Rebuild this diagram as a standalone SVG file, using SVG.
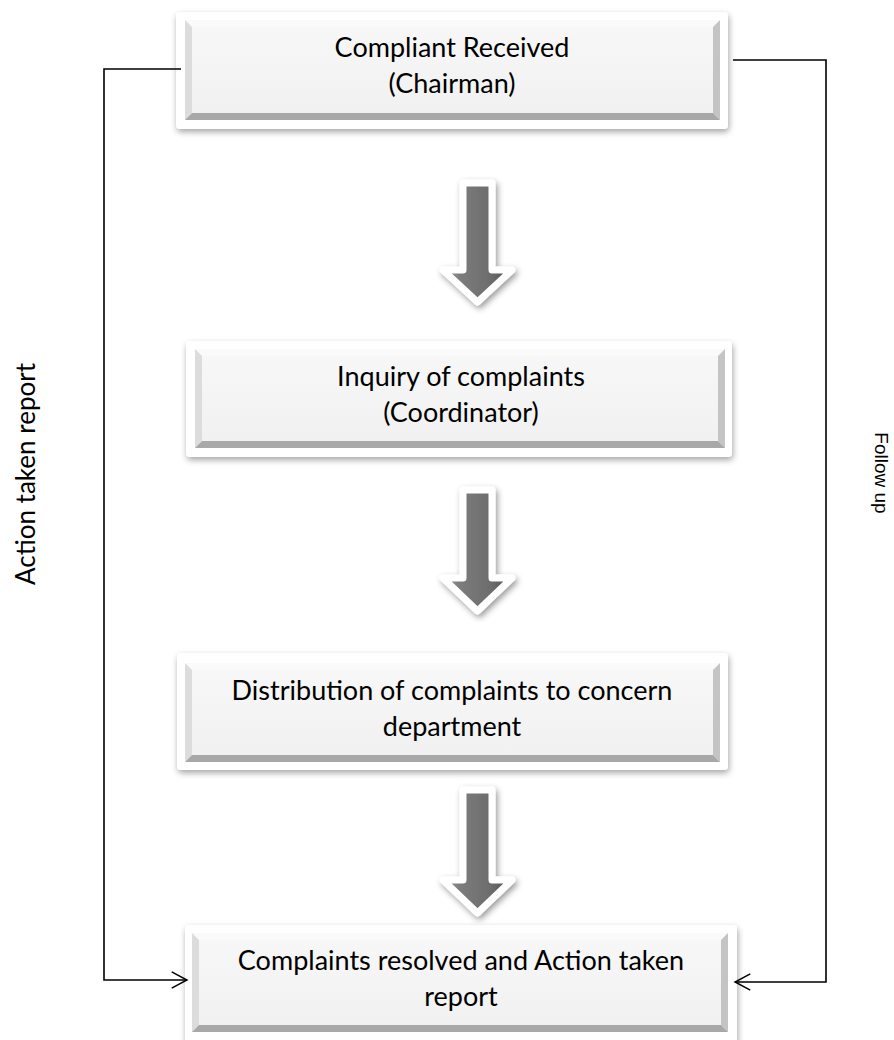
<svg xmlns="http://www.w3.org/2000/svg" width="894" height="1040" viewBox="0 0 894 1040">
  <defs>
    <filter id="shadow" x="-10%" y="-20%" width="120%" height="140%">
      <feDropShadow dx="1" dy="3" stdDeviation="3" flood-color="#000" flood-opacity="0.35"/>
    </filter>
    <filter id="ashadow" x="-40%" y="-20%" width="180%" height="140%">
      <feDropShadow dx="2" dy="3" stdDeviation="3" flood-color="#000" flood-opacity="0.4"/>
    </filter>
    <linearGradient id="shaft" x1="0" y1="0" x2="1" y2="0">
      <stop offset="0" stop-color="#9a9a9a"/>
      <stop offset="0.25" stop-color="#7c7c7c"/>
      <stop offset="0.7" stop-color="#6c6c6c"/>
      <stop offset="1" stop-color="#4c4c4c"/>
    </linearGradient>
    <linearGradient id="face" x1="0" y1="0" x2="0" y2="1">
      <stop offset="0" stop-color="#f7f7f7"/>
      <stop offset="1" stop-color="#f1f1f1"/>
    </linearGradient>
    <marker id="open" viewBox="0 0 20 20" refX="18" refY="10" markerWidth="18" markerHeight="20" markerUnits="userSpaceOnUse" orient="auto">
      <path d="M1,1 L18,10 L1,19" fill="none" stroke="#000" stroke-width="1.6"/>
    </marker>
  </defs>
  <style>
    .frame { fill: #ffffff; filter: url(#shadow); }
    .bt { fill: #fafafa; }
    .bl { fill: #dcdcdc; }
    .br { fill: #c4c4c4; }
    .bb { fill: #a8a8a8; }
    .face { fill: url(#face); }
    .lbl { font-family: "Lato", "Liberation Sans", sans-serif; font-size: 27px; fill: #000; text-anchor: middle; }
    .side { font-family: "Lato", "Liberation Sans", sans-serif; font-size: 26px; fill: #000; text-anchor: middle; }
    .side2 { font-family: "Liberation Sans", Arial, sans-serif; font-size: 19px; fill: #000; text-anchor: middle; }
    .conn { fill: none; stroke: #000; stroke-width: 1.6; }
    .arrow { fill: url(#shaft); stroke: #ffffff; stroke-width: 7; stroke-linejoin: round; filter: url(#ashadow); }
  </style>

  <!-- Node 1 -->
  <g id="node-received">
    <rect class="frame" x="176" y="12" width="552" height="117" rx="4"/>
    <polygon class="bt" points="185,20 720,20 713,27 192,27"/>
    <polygon class="bl" points="185,20 192,27 192,113 185,120"/>
    <polygon class="br" points="720,20 720,120 713,113 713,27"/>
    <polygon class="bb" points="185,120 192,113 713,113 720,120"/>
    <rect class="face" x="192" y="27" width="521" height="86"/>
    <text class="lbl" x="452" y="57">Compliant Received</text>
    <text class="lbl" x="452" y="93">(Chairman)</text>
  </g>

  <!-- Node 2 -->
  <g id="node-inquiry">
    <rect class="frame" x="186" y="341" width="546" height="116" rx="4"/>
    <polygon class="bt" points="195,349 725,349 718,356 202,356"/>
    <polygon class="bl" points="195,349 202,356 202,441 195,448"/>
    <polygon class="br" points="725,349 725,448 718,441 718,356"/>
    <polygon class="bb" points="195,448 202,441 718,441 725,448"/>
    <rect class="face" x="202" y="356" width="516" height="85"/>
    <text class="lbl" x="461" y="386">Inquiry of complaints</text>
    <text class="lbl" x="461" y="422">(Coordinator)</text>
  </g>

  <!-- Node 3 -->
  <g id="node-distribution">
    <rect class="frame" x="177" y="653" width="551" height="117" rx="4"/>
    <polygon class="bt" points="185,663 720,663 713,670 192,670"/>
    <polygon class="bl" points="185,663 192,670 192,755 185,762"/>
    <polygon class="br" points="720,663 720,762 713,755 713,670"/>
    <polygon class="bb" points="185,762 192,755 713,755 720,762"/>
    <rect class="face" x="192" y="670" width="521" height="85"/>
    <text class="lbl" x="452" y="700">Distribution of complaints to concern</text>
    <text class="lbl" x="452" y="736">department</text>
  </g>

  <!-- Node 4 -->
  <g id="node-resolved">
    <rect class="frame" x="185" y="925" width="552" height="120" rx="4"/>
    <polygon class="bt" points="192,933 728,933 721,940 199,940"/>
    <polygon class="bl" points="192,933 199,940 199,1025 192,1032"/>
    <polygon class="br" points="728,933 728,1032 721,1025 721,940"/>
    <polygon class="bb" points="192,1032 199,1025 721,1025 728,1032"/>
    <rect class="face" x="199" y="940" width="522" height="85"/>
    <text class="lbl" x="461" y="970">Complaints resolved and Action taken</text>
    <text class="lbl" x="461" y="1006">report</text>
  </g>

  <!-- Block arrows between nodes -->
  <g id="flow-arrows">
    <path class="arrow" d="M463,183 L492,183 L492,270 L512,270 L477.5,302 L443,270 L463,270 Z"/>
    <path class="arrow" d="M463,490 L492,490 L492,578 L512,578 L477.5,611 L443,578 L463,578 Z"/>
    <path class="arrow" d="M463,790 L492,790 L492,880 L512,880 L477.5,913 L443,880 L463,880 Z"/>
  </g>

  <!-- Feedback connectors -->
  <g id="connectors">
    <path class="conn" d="M181,69 L104,69 L104,980 L187,980" marker-end="url(#open)"/>
    <path class="conn" d="M733,60 L826,60 L826,982 L735,982" marker-end="url(#open)"/>
  </g>

  <!-- Side labels -->
  <g id="labels">
    <text class="side" transform="translate(35,474) rotate(-90)">Action taken report</text>
    <text class="side2" transform="translate(875,473) rotate(90)">Follow up</text>
  </g>
</svg>
